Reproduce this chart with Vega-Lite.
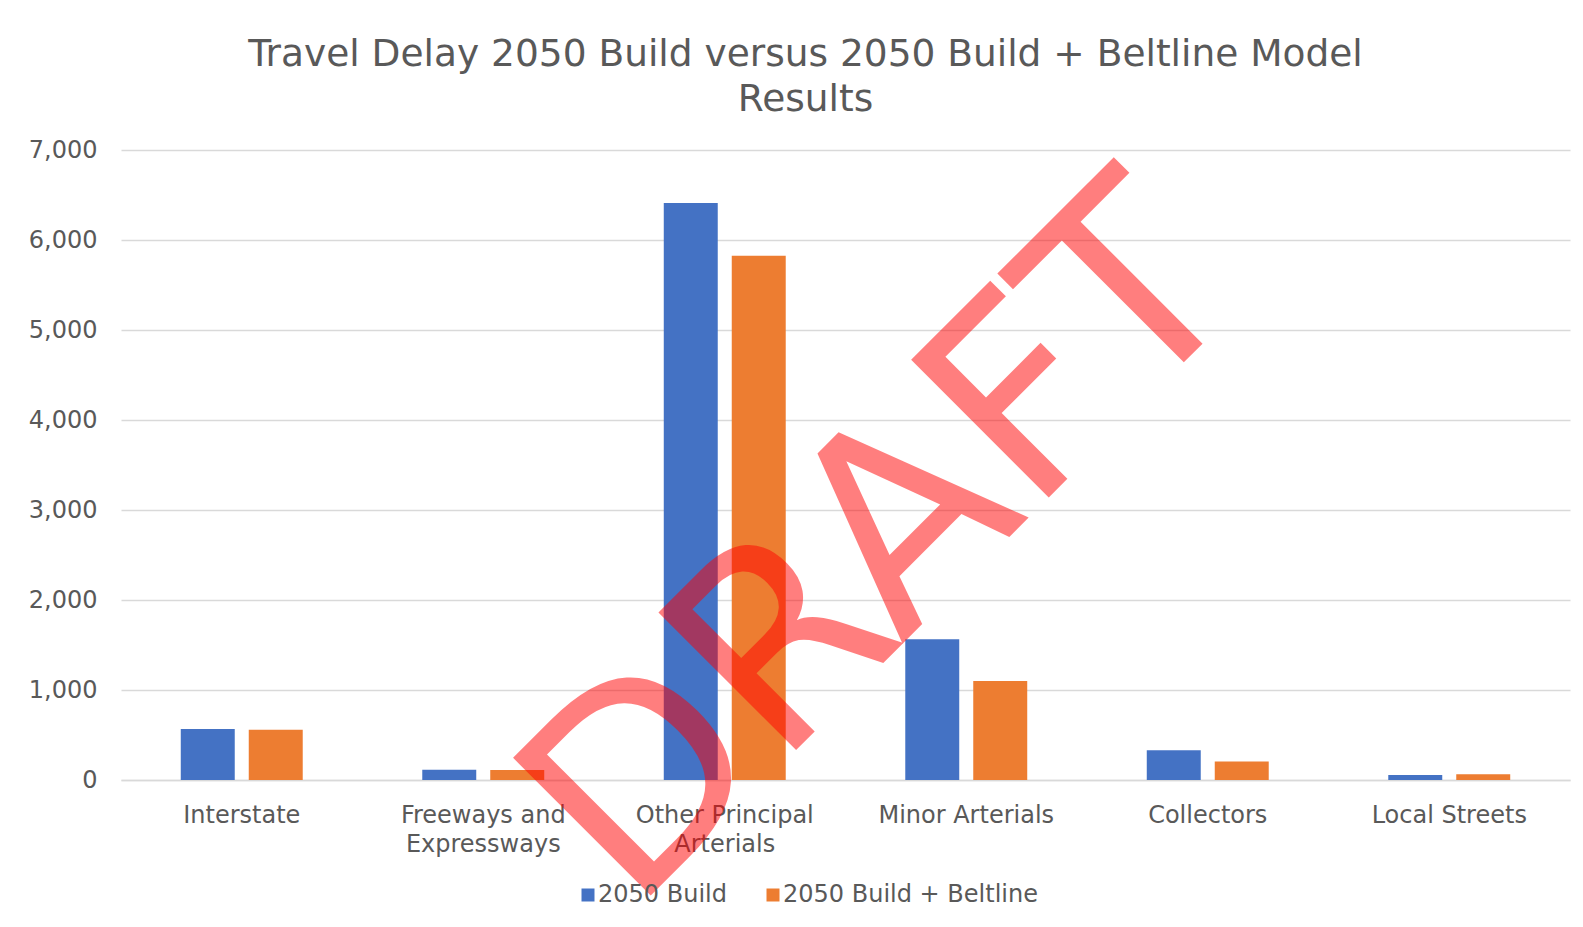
{
  "$schema": "https://vega.github.io/schema/vega-lite/v6.json",
  "width": 1449,
  "height": 630,
  "autosize": {"type": "none"},
  "padding": {"left": 121, "top": 150, "right": 13, "bottom": 147},
  "background": "white",
  "title": {
    "text": ["Travel Delay 2050 Build versus 2050 Build + Beltline Model", "Results"],
    "font": "DejaVu Sans",
    "fontSize": 37.5,
    "fontWeight": "normal",
    "color": "#595959",
    "lineHeight": 45,
    "anchor": "middle",
    "dx": -40,
    "offset": 20
  },
  "config": {"view": {"stroke": null}, "font": "DejaVu Sans"},
  "layer": [
    {
      "data": {
        "values": [
          {"category": "Interstate", "scenario": "2050 Build", "delay": 568},
          {"category": "Interstate", "scenario": "2050 Build + Beltline", "delay": 558},
          {"category": "Freeways and Expressways", "scenario": "2050 Build", "delay": 115},
          {"category": "Freeways and Expressways", "scenario": "2050 Build + Beltline", "delay": 110},
          {"category": "Other Principal Arterials", "scenario": "2050 Build", "delay": 6410},
          {"category": "Other Principal Arterials", "scenario": "2050 Build + Beltline", "delay": 5825},
          {"category": "Minor Arterials", "scenario": "2050 Build", "delay": 1565},
          {"category": "Minor Arterials", "scenario": "2050 Build + Beltline", "delay": 1100},
          {"category": "Collectors", "scenario": "2050 Build", "delay": 330},
          {"category": "Collectors", "scenario": "2050 Build + Beltline", "delay": 205},
          {"category": "Local Streets", "scenario": "2050 Build", "delay": 55},
          {"category": "Local Streets", "scenario": "2050 Build + Beltline", "delay": 65}
        ]
      },
      "mark": {"type": "bar"},
      "encoding": {
        "x": {
          "field": "category",
          "type": "nominal",
          "title": null,
          "scale": {
            "domain": ["Interstate", "Freeways and Expressways", "Other Principal Arterials", "Minor Arterials", "Collectors", "Local Streets"],
            "paddingInner": 0.495,
            "paddingOuter": 0.2475
          },
          "axis": {
            "title": null,
            "labelFont": "DejaVu Sans",
            "labelFontSize": 24,
            "labelColor": "#595959",
            "labelAngle": 0,
            "labelLimit": 400,
            "ticks": false,
            "tickSize": 0,
            "labelPadding": 23,
            "labelLineHeight": 29,
            "domainColor": "#d9d9d9",
            "domainWidth": 1.5,
            "labelExpr": "datum.label == 'Freeways and Expressways' ? ['Freeways and', 'Expressways'] : datum.label == 'Other Principal Arterials' ? ['Other Principal', 'Arterials'] : datum.label"
          }
        },
        "xOffset": {
          "field": "scenario",
          "type": "nominal",
          "scale": {"domain": ["2050 Build", "2050 Build + Beltline"], "paddingInner": 0.206, "paddingOuter": 0}
        },
        "y": {
          "field": "delay",
          "type": "quantitative",
          "title": null,
          "scale": {"domain": [0, 7000]},
          "axis": {
            "title": null,
            "values": [0, 1000, 2000, 3000, 4000, 5000, 6000, 7000],
            "format": ",d",
            "labelFont": "DejaVu Sans",
            "labelFontSize": 24,
            "labelColor": "#595959",
            "ticks": false,
            "tickSize": 0,
            "labelPadding": 24,
            "domain": false,
            "gridColor": "#d9d9d9",
            "gridWidth": 1.5
          }
        },
        "color": {
          "field": "scenario",
          "type": "nominal",
          "scale": {"domain": ["2050 Build", "2050 Build + Beltline"], "range": ["#4472C4", "#ED7D31"]},
          "legend": {
            "title": null,
            "orient": "none",
            "direction": "horizontal",
            "legendX": 455,
            "legendY": 733,
            "symbolType": "square",
            "symbolSize": 169,
            "symbolStrokeWidth": 0,
            "labelFont": "DejaVu Sans",
            "labelFontSize": 24,
            "labelColor": "#595959",
            "labelOffset": -2,
            "labelLimit": 400,
            "columnPadding": 34
          }
        }
      }
    },
    {
      "data": {"values": [{"label": "DRAFT"}]},
      "mark": {
        "type": "text",
        "angle": 315,
        "font": "DejaVu Sans",
        "fontSize": 267,
        "color": "#FF0000",
        "opacity": 0.5,
        "align": "center",
        "baseline": "middle",
        "dx": -115
      },
      "encoding": {
        "x": {
          "datum": "Minor Arterials",
          "type": "nominal",
          "title": null
        },
        "y": {"datum": 3480, "type": "quantitative", "title": null},
        "text": {"field": "label"}
      }
    }
  ]
}
